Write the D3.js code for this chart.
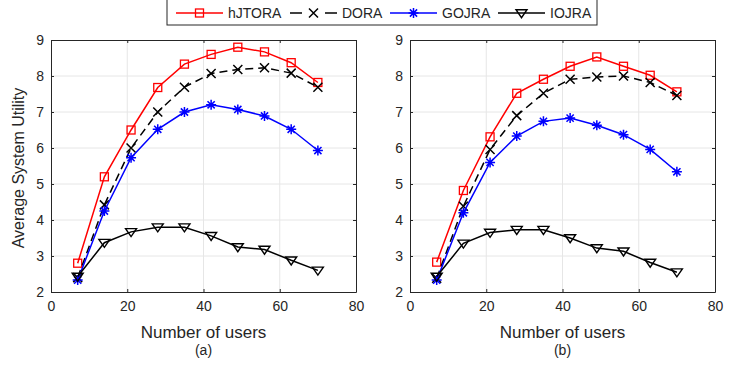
<!DOCTYPE html>
<html>
<head>
<meta charset="utf-8">
<script src="https://d3js.org/d3.v7.min.js"></script>
<style>
  body { margin: 0; background: #fff; }
  text { font-family: "Liberation Sans", Arial, Helvetica, sans-serif; fill: #262626; }
</style>
</head>
<body>
<div id="canvas"></div>
<script>
/* DATA */
const users = [7, 14, 21, 28, 35, 42, 49, 56, 63, 70];
const xTicks = [0, 20, 40, 60, 80];
const yTicks = [2, 3, 4, 5, 6, 7, 8, 9];

const hjtoraA = [2.8, 5.2, 6.5, 7.68, 8.33, 8.6, 8.8, 8.67, 8.37, 7.82];
const doraA   = [2.4, 4.42, 6.0, 7.0, 7.69, 8.07, 8.18, 8.23, 8.08, 7.69];
const gojraA  = [2.33, 4.25, 5.73, 6.52, 7.0, 7.2, 7.07, 6.89, 6.52, 5.93];
const iojraA  = [2.43, 3.37, 3.67, 3.8, 3.8, 3.56, 3.25, 3.18, 2.88, 2.6];

const hjtoraB = [2.83, 4.82, 6.31, 7.52, 7.91, 8.27, 8.53, 8.27, 8.02, 7.56];
const doraB   = [2.38, 4.38, 5.96, 6.9, 7.52, 7.91, 7.97, 8.0, 7.82, 7.46];
const gojraB  = [2.33, 4.2, 5.6, 6.33, 6.74, 6.83, 6.63, 6.37, 5.96, 5.34];
const iojraB  = [2.43, 3.35, 3.65, 3.73, 3.73, 3.5, 3.22, 3.13, 2.82, 2.55];

const seriesNames = ["hJTORA", "DORA", "GOJRA", "IOJRA"];
const panelLabels = ["(a)", "(b)"];

/* CREATE THE SVG CANVAS */
const width = 747;
const height = 377;

const svg = d3.select("#canvas")
    .append("svg")
    .attr("width", width)
    .attr("height", height);

const styles = {
    hJTORA: { color: "#ff0000", dash: null, marker: "square" },
    DORA:   { color: "#000000", dash: "8,5", marker: "x" },
    GOJRA:  { color: "#0000ff", dash: null, marker: "star" },
    IOJRA:  { color: "#000000", dash: null, marker: "tri" }
};

/* MARKER HELPER */
function drawMarker(g, kind, cx, cy, color) {
    if (kind === "square") {
        g.append("rect")
            .attr("x", cx - 4).attr("y", cy - 4)
            .attr("width", 8).attr("height", 8)
            .attr("fill", "none").attr("stroke", color).attr("stroke-width", 1.3);
    } else if (kind === "x") {
        const r = 4.5;
        g.append("path")
            .attr("d", `M${cx - r},${cy - r}L${cx + r},${cy + r}M${cx - r},${cy + r}L${cx + r},${cy - r}`)
            .attr("stroke", color).attr("stroke-width", 1.5);
    } else if (kind === "star") {
        const r = 5, d = 3.6;
        g.append("path")
            .attr("d", `M${cx - r},${cy}L${cx + r},${cy}M${cx},${cy - r}L${cx},${cy + r}` +
                       `M${cx - d},${cy - d}L${cx + d},${cy + d}M${cx - d},${cy + d}L${cx + d},${cy - d}`)
            .attr("stroke", color).attr("stroke-width", 1.5);
    } else if (kind === "tri") {
        const r = 5.5;
        g.append("path")
            .attr("d", `M${cx - r},${cy - r * 0.6}L${cx + r},${cy - r * 0.6}L${cx},${cy + r * 0.85}Z`)
            .attr("fill", "none").attr("stroke", color).attr("stroke-width", 1.4);
    }
}

/* DRAW ONE PANEL */
function drawPanel(x0, x1, data, label) {
    const x = d3.scaleLinear().domain([0, 80]).range([x0, x1]);
    const y = d3.scaleLinear().domain([2, 9]).range([292, 40]);
    const g = svg.append("g");

    // grid
    g.selectAll(".vgrid").data(xTicks.slice(1, -1)).enter().append("line")
        .attr("x1", d => x(d)).attr("x2", d => x(d))
        .attr("y1", y(2)).attr("y2", y(9))
        .attr("stroke", "#e6e6e6").attr("stroke-width", 1);
    g.selectAll(".hgrid").data(yTicks.slice(1, -1)).enter().append("line")
        .attr("x1", x(0)).attr("x2", x(80))
        .attr("y1", d => y(d)).attr("y2", d => y(d))
        .attr("stroke", "#e6e6e6").attr("stroke-width", 1);

    // axes
    g.append("g").attr("transform", `translate(0,${y(2)})`)
        .call(d3.axisBottom(x).tickValues(xTicks).tickFormat(d3.format("d"))
            .tickSizeInner(-3).tickSizeOuter(0).tickPadding(9));
    g.append("g").attr("transform", `translate(0,${y(9)})`)
        .call(d3.axisTop(x).tickValues(xTicks).tickSizeInner(-3).tickSizeOuter(0).tickFormat(""));
    g.append("g").attr("transform", `translate(${x(0)},0)`)
        .call(d3.axisLeft(y).tickValues(yTicks).tickFormat(d3.format("d"))
            .tickSizeInner(-3).tickSizeOuter(0).tickPadding(7));
    g.append("g").attr("transform", `translate(${x(80)},0)`)
        .call(d3.axisRight(y).tickValues(yTicks).tickSizeInner(-3).tickSizeOuter(0).tickFormat(""));
    g.selectAll(".domain, .tick line").attr("stroke", "#262626");
    g.selectAll(".tick text").attr("font-size", 14).attr("fill", "#262626")
        .style("font-family", "'Liberation Sans', Arial, sans-serif");

    // series
    const line = d3.line().x((d, i) => x(users[i])).y(d => y(d));
    seriesNames.forEach((name, k) => {
        const s = styles[name];
        g.append("path")
            .datum(data[k])
            .attr("d", line)
            .attr("fill", "none")
            .attr("stroke", s.color)
            .attr("stroke-width", 1.5)
            .attr("stroke-dasharray", s.dash);
        data[k].forEach((v, i) => drawMarker(g, s.marker, x(users[i]), y(v), s.color));
    });

    // labels
    g.append("text")
        .attr("x", (x0 + x1) / 2).attr("y", 338)
        .attr("text-anchor", "middle").attr("font-size", 17)
        .text("Number of users");
    g.append("text")
        .attr("x", (x0 + x1) / 2).attr("y", 355)
        .attr("text-anchor", "middle").attr("font-size", 14)
        .text(label);
}

drawPanel(51, 356, [hjtoraA, doraA, gojraA, iojraA], panelLabels[0]);
drawPanel(410, 715, [hjtoraB, doraB, gojraB, iojraB], panelLabels[1]);

/* Y LABEL */
svg.append("text")
    .attr("transform", "translate(24,168) rotate(-90)")
    .attr("text-anchor", "middle").attr("font-size", 16)
    .text("Average System Utility");

/* LEGEND */
const legend = svg.append("g");
legend.append("rect")
    .attr("x", 167).attr("y", -2)
    .attr("width", 430).attr("height", 27)
    .attr("fill", "#fff").attr("stroke", "#262626").attr("stroke-width", 1);

const legendX = [176, 290, 390, 498];
seriesNames.forEach((name, k) => {
    const s = styles[name];
    const lx = legendX[k];
    const ly = 13;
    if (s.dash) {
        legend.append("line").attr("x1", lx).attr("x2", lx + 12).attr("y1", ly).attr("y2", ly)
            .attr("stroke", s.color).attr("stroke-width", 1.5);
        legend.append("line").attr("x1", lx + 35).attr("x2", lx + 47).attr("y1", ly).attr("y2", ly)
            .attr("stroke", s.color).attr("stroke-width", 1.5);
    } else {
        legend.append("line").attr("x1", lx).attr("x2", lx + 47).attr("y1", ly).attr("y2", ly)
            .attr("stroke", s.color).attr("stroke-width", 1.5);
    }
    drawMarker(legend, s.marker, lx + 23.5, ly, s.color);
    legend.append("text")
        .attr("x", lx + 52).attr("y", ly + 5)
        .attr("font-size", 14)
        .text(name);
});
</script>
</body>
</html>
